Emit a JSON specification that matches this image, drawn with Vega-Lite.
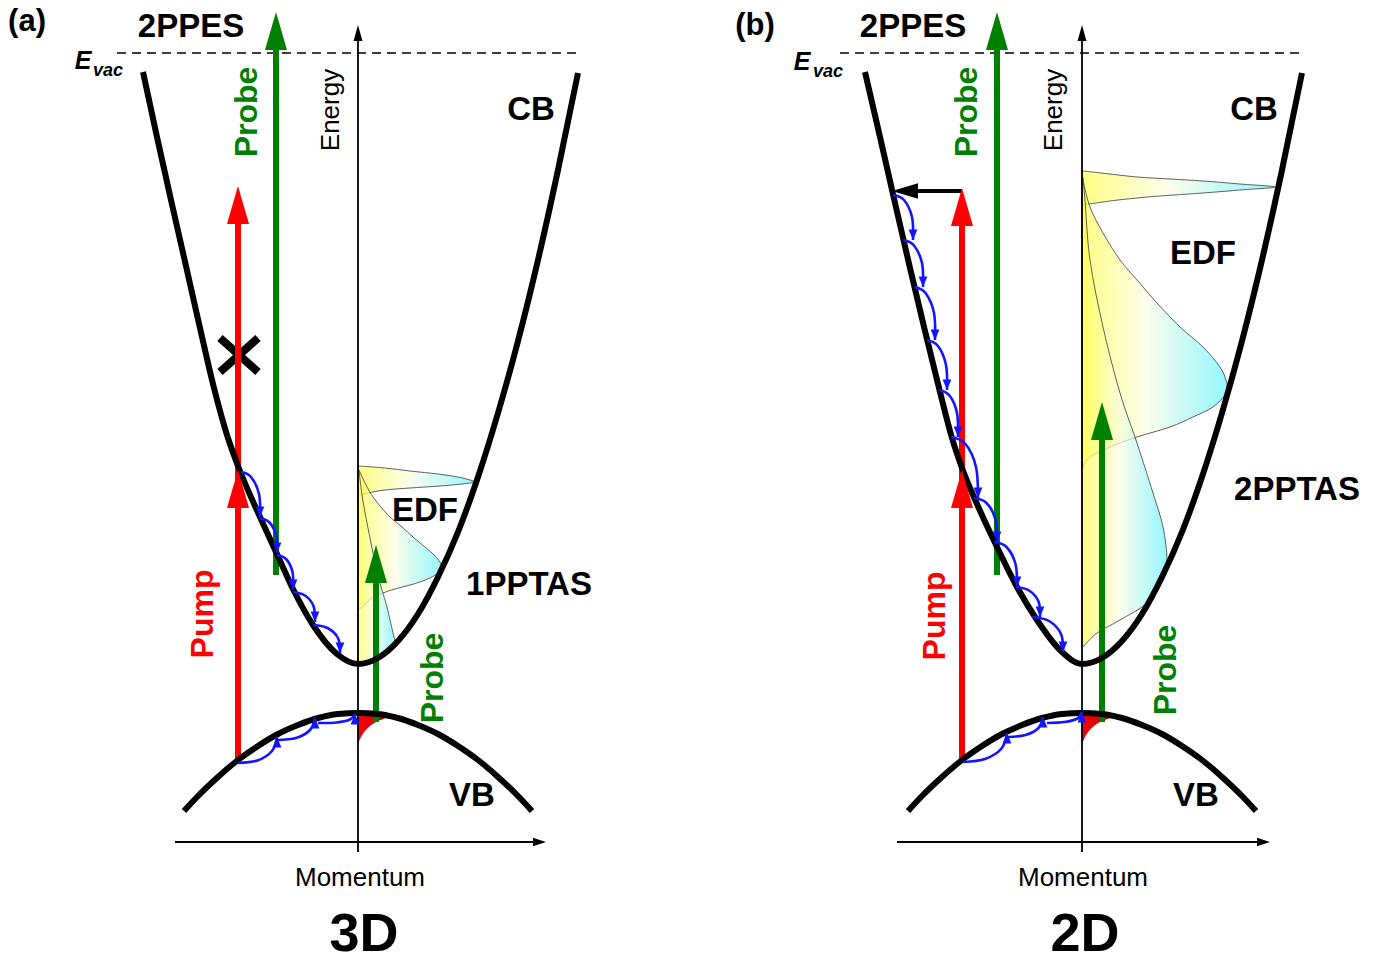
{
  "$schema": "https://vega.github.io/schema/vega-lite/v6.json",
  "width": 1391,
  "height": 967,
  "autosize": {"type": "fit", "contains": "padding"},
  "padding": 0,
  "background": "white",
  "config": {"view": {"stroke": null}},
  "datasets": {
    "bands": [
      {"curve":"cbA","x":143,"y":72},{"curve":"cbA","x":157,"y":137},{"curve":"cbA","x":171,"y":200},{"curve":"cbA","x":186,"y":266},{"curve":"cbA","x":200,"y":328},{"curve":"cbA","x":214,"y":388},{"curve":"cbA","x":227,"y":435},{"curve":"cbA","x":240,"y":471},{"curve":"cbA","x":260,"y":517},{"curve":"cbA","x":277,"y":554},{"curve":"cbA","x":293,"y":589},{"curve":"cbA","x":313,"y":625},{"curve":"cbA","x":337,"y":654},{"curve":"cbA","x":358,"y":664},{"curve":"cbA","x":378,"y":658},{"curve":"cbA","x":398,"y":641},{"curve":"cbA","x":418,"y":614},{"curve":"cbA","x":438,"y":577},{"curve":"cbA","x":458,"y":532},{"curve":"cbA","x":478,"y":477},{"curve":"cbA","x":498,"y":413},{"curve":"cbA","x":518,"y":341},{"curve":"cbA","x":538,"y":260},{"curve":"cbA","x":558,"y":170},{"curve":"cbA","x":578,"y":73},
      {"curve":"cbB","x":865,"y":72},{"curve":"cbB","x":880,"y":137},{"curve":"cbB","x":895,"y":203},{"curve":"cbB","x":910,"y":268},{"curve":"cbB","x":925,"y":331},{"curve":"cbB","x":940,"y":392},{"curve":"cbB","x":952,"y":438},{"curve":"cbB","x":962,"y":468},{"curve":"cbB","x":977,"y":504},{"curve":"cbB","x":997,"y":547},{"curve":"cbB","x":1017,"y":587},{"curve":"cbB","x":1037,"y":620},{"curve":"cbB","x":1060,"y":650},{"curve":"cbB","x":1082,"y":664},{"curve":"cbB","x":1102,"y":658},{"curve":"cbB","x":1122,"y":641},{"curve":"cbB","x":1142,"y":614},{"curve":"cbB","x":1162,"y":577},{"curve":"cbB","x":1182,"y":532},{"curve":"cbB","x":1202,"y":477},{"curve":"cbB","x":1222,"y":413},{"curve":"cbB","x":1242,"y":341},{"curve":"cbB","x":1262,"y":260},{"curve":"cbB","x":1282,"y":170},{"curve":"cbB","x":1302,"y":73},
      {"curve":"vbA","x":184,"y":811},{"curve":"vbA","x":198,"y":796},{"curve":"vbA","x":218,"y":777},{"curve":"vbA","x":238,"y":760},{"curve":"vbA","x":258,"y":746},{"curve":"vbA","x":278,"y":734},{"curve":"vbA","x":298,"y":725},{"curve":"vbA","x":318,"y":718},{"curve":"vbA","x":338,"y":714},{"curve":"vbA","x":358,"y":713},{"curve":"vbA","x":378,"y":714},{"curve":"vbA","x":398,"y":718},{"curve":"vbA","x":418,"y":725},{"curve":"vbA","x":438,"y":734},{"curve":"vbA","x":458,"y":746},{"curve":"vbA","x":478,"y":760},{"curve":"vbA","x":498,"y":777},{"curve":"vbA","x":518,"y":796},{"curve":"vbA","x":532,"y":811},
      {"curve":"vbB","x":908,"y":811},{"curve":"vbB","x":922,"y":796},{"curve":"vbB","x":942,"y":777},{"curve":"vbB","x":962,"y":760},{"curve":"vbB","x":982,"y":746},{"curve":"vbB","x":1002,"y":734},{"curve":"vbB","x":1022,"y":725},{"curve":"vbB","x":1042,"y":718},{"curve":"vbB","x":1062,"y":714},{"curve":"vbB","x":1082,"y":713},{"curve":"vbB","x":1102,"y":714},{"curve":"vbB","x":1122,"y":718},{"curve":"vbB","x":1142,"y":725},{"curve":"vbB","x":1162,"y":734},{"curve":"vbB","x":1182,"y":746},{"curve":"vbB","x":1202,"y":760},{"curve":"vbB","x":1222,"y":777},{"curve":"vbB","x":1242,"y":796},{"curve":"vbB","x":1256,"y":811}
    ],
    "edf": [
      {"g":"aS","y":466,"x":358.5,"base":358},{"g":"aS","y":468,"x":385,"base":358},{"g":"aS","y":471,"x":410,"base":358},{"g":"aS","y":474,"x":438,"base":358},{"g":"aS","y":477,"x":458,"base":358},{"g":"aS","y":480,"x":470,"base":358},{"g":"aS","y":482,"x":475,"base":358},{"g":"aS","y":484,"x":462,"base":358},{"g":"aS","y":486,"x":440,"base":358},{"g":"aS","y":488,"x":410,"base":358},{"g":"aS","y":490,"x":385,"base":358},{"g":"aS","y":493,"x":368,"base":358},{"g":"aS","y":496,"x":358.5,"base":358},
      {"g":"aM","y":470,"x":359,"base":358},{"g":"aM","y":485,"x":366,"base":358},{"g":"aM","y":497,"x":373,"base":358},{"g":"aM","y":507,"x":381,"base":358},{"g":"aM","y":517,"x":390,"base":358},{"g":"aM","y":527,"x":402,"base":358},{"g":"aM","y":537,"x":413,"base":358},{"g":"aM","y":547,"x":425,"base":358},{"g":"aM","y":555,"x":434,"base":358},{"g":"aM","y":562,"x":440,"base":358},{"g":"aM","y":568,"x":442,"base":358},{"g":"aM","y":573,"x":438,"base":358},{"g":"aM","y":578,"x":430,"base":358},{"g":"aM","y":582,"x":420,"base":358},{"g":"aM","y":585,"x":410,"base":358},{"g":"aM","y":589,"x":395,"base":358},{"g":"aM","y":593,"x":383,"base":358},{"g":"aM","y":598,"x":372,"base":358},{"g":"aM","y":603,"x":366,"base":358},{"g":"aM","y":610,"x":359,"base":358},
      {"g":"aW","y":470,"x":359,"base":358},{"g":"aW","y":495,"x":362,"base":358},{"g":"aW","y":523,"x":367,"base":358},{"g":"aW","y":548,"x":372,"base":358},{"g":"aW","y":573,"x":377,"base":358},{"g":"aW","y":590,"x":382,"base":358},{"g":"aW","y":607,"x":387,"base":358},{"g":"aW","y":620,"x":390,"base":358},{"g":"aW","y":633,"x":393,"base":358},{"g":"aW","y":643,"x":395,"base":358},{"g":"aW","y":650,"x":391,"base":358},{"g":"aW","y":655,"x":385,"base":358},{"g":"aW","y":660,"x":377,"base":358},{"g":"aW","y":662,"x":368,"base":358},{"g":"aW","y":663,"x":359,"base":358},
      {"g":"bS","y":171,"x":1083,"base":1082},{"g":"bS","y":174,"x":1110,"base":1082},{"g":"bS","y":177,"x":1137,"base":1082},{"g":"bS","y":179,"x":1170,"base":1082},{"g":"bS","y":181,"x":1203,"base":1082},{"g":"bS","y":184,"x":1240,"base":1082},{"g":"bS","y":187,"x":1275,"base":1082},{"g":"bS","y":190,"x":1240,"base":1082},{"g":"bS","y":193,"x":1203,"base":1082},{"g":"bS","y":196,"x":1160,"base":1082},{"g":"bS","y":198,"x":1137,"base":1082},{"g":"bS","y":201,"x":1110,"base":1082},{"g":"bS","y":205,"x":1083,"base":1082},
      {"g":"bM","y":180,"x":1083,"base":1082},{"g":"bM","y":207,"x":1090,"base":1082},{"g":"bM","y":233,"x":1103,"base":1082},{"g":"bM","y":260,"x":1120,"base":1082},{"g":"bM","y":280,"x":1137,"base":1082},{"g":"bM","y":303,"x":1157,"base":1082},{"g":"bM","y":327,"x":1180,"base":1082},{"g":"bM","y":347,"x":1203,"base":1082},{"g":"bM","y":367,"x":1220,"base":1082},{"g":"bM","y":380,"x":1226,"base":1082},{"g":"bM","y":388,"x":1227,"base":1082},{"g":"bM","y":395,"x":1225,"base":1082},{"g":"bM","y":407,"x":1213,"base":1082},{"g":"bM","y":417,"x":1193,"base":1082},{"g":"bM","y":427,"x":1170,"base":1082},{"g":"bM","y":437,"x":1137,"base":1082},{"g":"bM","y":447,"x":1110,"base":1082},{"g":"bM","y":457,"x":1090,"base":1082},{"g":"bM","y":467,"x":1083,"base":1082},
      {"g":"bW","y":177,"x":1083,"base":1082},{"g":"bW","y":200,"x":1085,"base":1082},{"g":"bW","y":260,"x":1090,"base":1082},{"g":"bW","y":327,"x":1103,"base":1082},{"g":"bW","y":393,"x":1120,"base":1082},{"g":"bW","y":443,"x":1137,"base":1082},{"g":"bW","y":493,"x":1153,"base":1082},{"g":"bW","y":527,"x":1163,"base":1082},{"g":"bW","y":560,"x":1167,"base":1082},{"g":"bW","y":580,"x":1163,"base":1082},{"g":"bW","y":603,"x":1147,"base":1082},{"g":"bW","y":620,"x":1120,"base":1082},{"g":"bW","y":633,"x":1097,"base":1082},{"g":"bW","y":647,"x":1083,"base":1082}
    ],
    "holes": [
      {"g":"a","x":358,"y":713,"y2":744},{"g":"a","x":361,"y":713,"y2":737},{"g":"a","x":365,"y":713.2,"y2":731},{"g":"a","x":370,"y":713.5,"y2":726},{"g":"a","x":376,"y":714.1,"y2":722},{"g":"a","x":382,"y":714.9,"y2":719.5},{"g":"a","x":388,"y":715.9,"y2":717.5},{"g":"a","x":394,"y":717.2,"y2":717.2},
      {"g":"b","x":1082,"y":713,"y2":744},{"g":"b","x":1085,"y":713,"y2":737},{"g":"b","x":1089,"y":713.2,"y2":731},{"g":"b","x":1094,"y":713.5,"y2":726},{"g":"b","x":1100,"y":714.1,"y2":722},{"g":"b","x":1106,"y":714.9,"y2":719.5},{"g":"b","x":1112,"y":715.9,"y2":717.5},{"g":"b","x":1118,"y":717.2,"y2":717.2}
    ],
    "axes": [
      {"x":358,"y":852,"x2":358,"y2":40},{"x":175,"y":842,"x2":535,"y2":842},
      {"x":1082,"y":852,"x2":1082,"y2":40},{"x":897,"y":842,"x2":1258,"y2":842}
    ],
    "evac": [
      {"x":117,"y":53,"x2":576,"y2":53},{"x":840,"y":53,"x2":1300,"y2":53}
    ],
    "cross": [
      {"x":220,"y":338,"x2":258,"y2":372},{"x":258,"y":338,"x2":220,"y2":372}
    ],
    "shafts": [
      {"kind":"pump","x":238,"y":762,"y2":205},{"kind":"probe","x":276,"y":575,"y2":35},{"kind":"probe","x":376,"y":722,"y2":570},
      {"kind":"pump","x":962,"y":762,"y2":205},{"kind":"probe","x":997,"y":575,"y2":35},{"kind":"probe","x":1102,"y":722,"y2":425}
    ],
    "bigHeads": [
      {"kind":"pump","x":238,"y":186},{"kind":"pump","x":238,"y":470},{"kind":"probe","x":276,"y":12},{"kind":"probe","x":376,"y":545},
      {"kind":"pump","x":962,"y":188},{"kind":"pump","x":962,"y":470},{"kind":"probe","x":997,"y":12},{"kind":"probe","x":1102,"y":402}
    ],
    "kShaft": [{"x":962,"y":191,"x2":912,"y2":191}],
    "kHead": [{"x":892,"y":191}],
    "axisUp": [{"x":358,"y":25},{"x":1082,"y":25}],
    "axisRight": [{"x":546,"y":842},{"x":1270,"y":842}],
    "arcs": [
      {"arc":"a1","i":0,"x":241,"y":472},{"arc":"a1","i":1,"x":251,"y":477},{"arc":"a1","i":2,"x":259,"y":494},{"arc":"a1","i":3,"x":260,"y":517},
      {"arc":"a2","i":0,"x":259,"y":518},{"arc":"a2","i":1,"x":269,"y":522},{"arc":"a2","i":2,"x":276,"y":535},{"arc":"a2","i":3,"x":277,"y":553},
      {"arc":"a3","i":0,"x":277,"y":555},{"arc":"a3","i":1,"x":286,"y":559},{"arc":"a3","i":2,"x":292.5,"y":572},{"arc":"a3","i":3,"x":293,"y":590},
      {"arc":"a4","i":0,"x":293,"y":592},{"arc":"a4","i":1,"x":305,"y":595.5},{"arc":"a4","i":2,"x":313.5,"y":606},{"arc":"a4","i":3,"x":315,"y":622},
      {"arc":"a5","i":0,"x":313,"y":625},{"arc":"a5","i":1,"x":327.5,"y":628},{"arc":"a5","i":2,"x":338,"y":638},{"arc":"a5","i":3,"x":340,"y":653},
      {"arc":"av1","i":0,"x":238,"y":763},{"arc":"av1","i":1,"x":257.5,"y":760.5},{"arc":"av1","i":2,"x":272,"y":751},{"arc":"av1","i":3,"x":277,"y":737},
      {"arc":"av2","i":0,"x":277,"y":740},{"arc":"av2","i":1,"x":296,"y":738},{"arc":"av2","i":2,"x":310,"y":730},{"arc":"av2","i":3,"x":315,"y":718},
      {"arc":"av3","i":0,"x":318,"y":723},{"arc":"av3","i":1,"x":336.5,"y":722.5},{"arc":"av3","i":2,"x":350,"y":719.5},{"arc":"av3","i":3,"x":355,"y":714},
      {"arc":"b1","i":0,"x":893,"y":195},{"arc":"b1","i":1,"x":904,"y":200},{"arc":"b1","i":2,"x":912,"y":217},{"arc":"b1","i":3,"x":913,"y":240},
      {"arc":"b2","i":0,"x":903.5,"y":240},{"arc":"b2","i":1,"x":914,"y":245.5},{"arc":"b2","i":2,"x":922,"y":263},{"arc":"b2","i":3,"x":923,"y":287},
      {"arc":"b3","i":0,"x":914.6,"y":287},{"arc":"b3","i":1,"x":925.5,"y":293},{"arc":"b3","i":2,"x":934,"y":313},{"arc":"b3","i":3,"x":935,"y":340},
      {"arc":"b4","i":0,"x":927.2,"y":340},{"arc":"b4","i":1,"x":938,"y":346},{"arc":"b4","i":2,"x":946,"y":365},{"arc":"b4","i":3,"x":947,"y":390},
      {"arc":"b5","i":0,"x":939.3,"y":390},{"arc":"b5","i":1,"x":949.5,"y":395.5},{"arc":"b5","i":2,"x":957,"y":413},{"arc":"b5","i":3,"x":958,"y":437},
      {"arc":"b6","i":0,"x":951.3,"y":437},{"arc":"b6","i":1,"x":965.5,"y":444},{"arc":"b6","i":2,"x":976,"y":467},{"arc":"b6","i":3,"x":978,"y":498},
      {"arc":"b7","i":0,"x":974,"y":498},{"arc":"b7","i":1,"x":986.5,"y":503},{"arc":"b7","i":2,"x":995.5,"y":519.5},{"arc":"b7","i":3,"x":997,"y":542},
      {"arc":"b8","i":0,"x":994.2,"y":542},{"arc":"b8","i":1,"x":1006.5,"y":547},{"arc":"b8","i":2,"x":1015.5,"y":564},{"arc":"b8","i":3,"x":1017,"y":587},
      {"arc":"b9","i":0,"x":1015.8,"y":587},{"arc":"b9","i":1,"x":1029,"y":590.5},{"arc":"b9","i":2,"x":1038.5,"y":601.5},{"arc":"b9","i":3,"x":1040,"y":617},
      {"arc":"b10","i":0,"x":1032.4,"y":617},{"arc":"b10","i":1,"x":1049,"y":621},{"arc":"b10","i":2,"x":1061,"y":634},{"arc":"b10","i":3,"x":1063,"y":652},
      {"arc":"bv1","i":0,"x":963,"y":762},{"arc":"bv1","i":1,"x":985,"y":759},{"arc":"bv1","i":2,"x":1001.5,"y":748.5},{"arc":"bv1","i":3,"x":1007,"y":733},
      {"arc":"bv2","i":0,"x":1008,"y":737},{"arc":"bv2","i":1,"x":1025.5,"y":735},{"arc":"bv2","i":2,"x":1038.5,"y":728},{"arc":"bv2","i":3,"x":1043,"y":717},
      {"arc":"bv3","i":0,"x":1047,"y":723},{"arc":"bv3","i":1,"x":1064.5,"y":722},{"arc":"bv3","i":2,"x":1077.5,"y":718.5},{"arc":"bv3","i":3,"x":1082,"y":712}
    ],
    "blueDown": [
      {"x":260,"y":517},{"x":277,"y":553},{"x":293,"y":590},{"x":315,"y":622},{"x":340,"y":653},
      {"x":913,"y":240},{"x":923,"y":287},{"x":935,"y":340},{"x":947,"y":390},{"x":958,"y":437},{"x":978,"y":498},{"x":997,"y":542},{"x":1017,"y":587},{"x":1040,"y":617},{"x":1063,"y":652}
    ],
    "blueUp": [
      {"x":277,"y":737},{"x":315,"y":718},{"x":355,"y":714},{"x":1007,"y":733},{"x":1043,"y":717},{"x":1082,"y":712}
    ],
    "boldText": [
      {"t":"2PPES","x":191,"y":27},{"t":"CB","x":531,"y":110},{"t":"EDF","x":425,"y":511},{"t":"1PPTAS","x":529,"y":585},{"t":"VB","x":472,"y":796},
      {"t":"2PPES","x":913,"y":27},{"t":"CB","x":1254,"y":110},{"t":"EDF","x":1203,"y":254},{"t":"2PPTAS","x":1297,"y":490},{"t":"VB","x":1196,"y":796}
    ],
    "panelText": [{"t":"(a)","x":27,"y":22},{"t":"(b)","x":755,"y":26}],
    "dimText": [{"t":"3D","x":364,"y":935},{"t":"2D","x":1085,"y":935}],
    "momText": [{"t":"Momentum","x":360,"y":878},{"t":"Momentum","x":1083,"y":878}],
    "energyText": [{"t":"Energy","x":331,"y":110},{"t":"Energy","x":1054,"y":110}],
    "pumpText": [{"t":"Pump","x":203,"y":614},{"t":"Pump","x":935,"y":616}],
    "probeText": [{"t":"Probe","x":247,"y":112},{"t":"Probe","x":433,"y":678},{"t":"Probe","x":967,"y":112},{"t":"Probe","x":1166,"y":670}],
    "eText": [{"t":"E","x":83,"y":61},{"t":"E","x":802,"y":62}],
    "vacText": [{"t":"vac","x":93,"y":71},{"t":"vac","x":813,"y":72}]
  },
  "encoding": {
    "x": {"field": "x", "type": "quantitative", "scale": {"domain": [0, 1391], "nice": false, "zero": false}, "axis": null},
    "y": {"field": "y", "type": "quantitative", "scale": {"domain": [0, 967], "nice": false, "zero": false, "reverse": true}, "axis": null}
  },
  "layer": [
    {
      "data": {"name": "edf"},
      "mark": {"type": "area", "orient": "horizontal", "interpolate": "cardinal", "fillOpacity": 0.7, "stroke": "#3a3a3a", "strokeWidth": 0.8,
        "fill": {"gradient": "linear", "x1": 0, "y1": 0, "x2": 1, "y2": 0, "stops": [{"offset": 0, "color": "#ffff4d"}, {"offset": 0.45, "color": "#f8fde4"}, {"offset": 1, "color": "#66f4ff"}]}},
      "encoding": {"x2": {"field": "base"}, "detail": {"field": "g"}}
    },
    {
      "data": {"name": "holes"},
      "mark": {"type": "area", "orient": "vertical", "interpolate": "monotone",
        "fill": {"gradient": "linear", "x1": 0, "y1": 0, "x2": 1, "y2": 0, "stops": [{"offset": 0, "color": "#ff0000"}, {"offset": 0.55, "color": "#d40000"}, {"offset": 1, "color": "#5c0000"}]}},
      "encoding": {"y2": {"field": "y2"}, "detail": {"field": "g"}}
    },
    {
      "data": {"name": "axes"},
      "mark": {"type": "rule", "color": "black", "strokeWidth": 1.8},
      "encoding": {"x2": {"field": "x2"}, "y2": {"field": "y2"}}
    },
    {
      "data": {"name": "evac"},
      "mark": {"type": "rule", "color": "black", "strokeWidth": 1.6, "strokeDash": [9, 6]},
      "encoding": {"x2": {"field": "x2"}, "y2": {"field": "y2"}}
    },
    {
      "data": {"name": "cross"},
      "mark": {"type": "rule", "color": "black", "strokeWidth": 8, "strokeCap": "butt"},
      "encoding": {"x2": {"field": "x2"}, "y2": {"field": "y2"}}
    },
    {
      "data": {"name": "shafts"},
      "mark": {"type": "rule", "strokeWidth": 6},
      "encoding": {
        "y2": {"field": "y2"},
        "color": {"field": "kind", "type": "nominal", "scale": {"domain": ["pump", "probe"], "range": ["#ff0000", "#008000"]}, "legend": null}
      }
    },
    {
      "data": {"name": "kShaft"},
      "mark": {"type": "rule", "color": "black", "strokeWidth": 4},
      "encoding": {"x2": {"field": "x2"}, "y2": {"field": "y2"}}
    },
    {
      "data": {"name": "bands"},
      "mark": {"type": "line", "interpolate": "monotone", "color": "black", "strokeWidth": 6},
      "encoding": {"detail": {"field": "curve"}}
    },
    {
      "data": {"name": "arcs"},
      "mark": {"type": "line", "interpolate": "cardinal", "color": "#1414ff", "strokeWidth": 2.6},
      "encoding": {"detail": {"field": "arc"}, "order": {"field": "i", "type": "quantitative"}}
    },
    {
      "data": {"name": "bigHeads"},
      "mark": {"type": "point", "shape": "M0,0L-0.29,1L0.29,1Z", "size": 5776, "filled": true, "opacity": 1, "strokeWidth": 0},
      "encoding": {"color": {"field": "kind", "type": "nominal", "scale": {"domain": ["pump", "probe"], "range": ["#ff0000", "#008000"]}, "legend": null}}
    },
    {
      "data": {"name": "kHead"},
      "mark": {"type": "point", "shape": "M0,0L1,-0.3L1,0.3Z", "size": 2704, "filled": true, "opacity": 1, "strokeWidth": 0, "color": "black"}
    },
    {
      "data": {"name": "axisUp"},
      "mark": {"type": "point", "shape": "M0,0L-0.28,1L0.28,1Z", "size": 1024, "filled": true, "opacity": 1, "strokeWidth": 0, "color": "black"}
    },
    {
      "data": {"name": "axisRight"},
      "mark": {"type": "point", "shape": "M0,0L-1,-0.33L-1,0.33Z", "size": 676, "filled": true, "opacity": 1, "strokeWidth": 0, "color": "black"}
    },
    {
      "data": {"name": "blueDown"},
      "mark": {"type": "point", "shape": "M0,0L-0.42,-1L0.42,-1Z", "size": 441, "filled": true, "opacity": 1, "strokeWidth": 0, "color": "#1414ff"}
    },
    {
      "data": {"name": "blueUp"},
      "mark": {"type": "point", "shape": "M0,0L-0.42,1L0.42,1Z", "size": 441, "filled": true, "opacity": 1, "strokeWidth": 0, "color": "#1414ff"}
    },
    {
      "data": {"name": "boldText"},
      "mark": {"type": "text", "font": "Liberation Sans", "fontWeight": "bold", "fontSize": 33, "align": "center", "baseline": "middle", "color": "black"},
      "encoding": {"text": {"field": "t"}}
    },
    {
      "data": {"name": "panelText"},
      "mark": {"type": "text", "font": "Liberation Sans", "fontWeight": "bold", "fontSize": 31, "align": "center", "baseline": "middle", "color": "black"},
      "encoding": {"text": {"field": "t"}}
    },
    {
      "data": {"name": "dimText"},
      "mark": {"type": "text", "font": "Liberation Sans", "fontWeight": "bold", "fontSize": 54, "align": "center", "baseline": "middle", "color": "black"},
      "encoding": {"text": {"field": "t"}}
    },
    {
      "data": {"name": "momText"},
      "mark": {"type": "text", "font": "Liberation Sans", "fontSize": 26, "align": "center", "baseline": "middle", "color": "black"},
      "encoding": {"text": {"field": "t"}}
    },
    {
      "data": {"name": "energyText"},
      "mark": {"type": "text", "font": "Liberation Sans", "fontSize": 26, "align": "center", "baseline": "middle", "angle": 270, "color": "black"},
      "encoding": {"text": {"field": "t"}}
    },
    {
      "data": {"name": "pumpText"},
      "mark": {"type": "text", "font": "Liberation Sans", "fontWeight": "bold", "fontSize": 32, "align": "center", "baseline": "middle", "angle": 270, "color": "#ff0000"},
      "encoding": {"text": {"field": "t"}}
    },
    {
      "data": {"name": "probeText"},
      "mark": {"type": "text", "font": "Liberation Sans", "fontWeight": "bold", "fontSize": 32, "align": "center", "baseline": "middle", "angle": 270, "color": "#008000"},
      "encoding": {"text": {"field": "t"}}
    },
    {
      "data": {"name": "eText"},
      "mark": {"type": "text", "font": "Liberation Sans", "fontWeight": "bold", "fontStyle": "italic", "fontSize": 25, "align": "center", "baseline": "middle", "color": "black"},
      "encoding": {"text": {"field": "t"}}
    },
    {
      "data": {"name": "vacText"},
      "mark": {"type": "text", "font": "Liberation Sans", "fontWeight": "bold", "fontStyle": "italic", "fontSize": 18, "align": "left", "baseline": "middle", "color": "black"},
      "encoding": {"text": {"field": "t"}}
    }
  ]
}
